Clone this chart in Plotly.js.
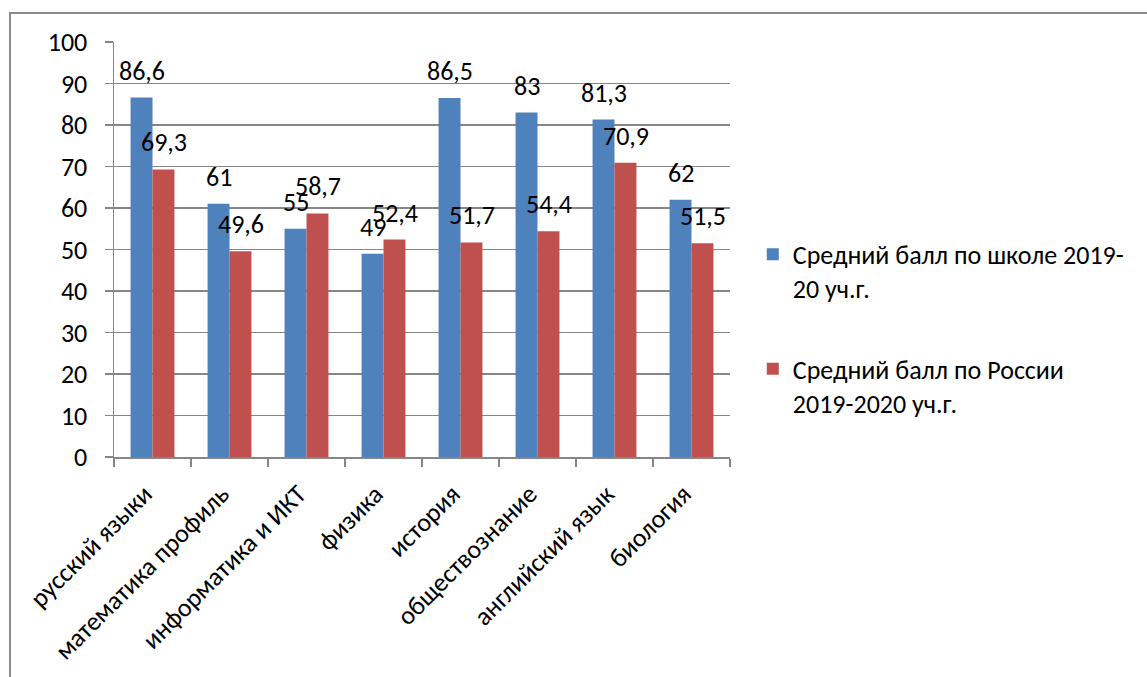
<!DOCTYPE html>
<html>
<head>
<meta charset="utf-8">
<script src="https://cdn.plot.ly/plotly-3.0.1.min.js"></script>
<style>
html,body{margin:0;padding:0;background:#fff;}
#frame{position:absolute;left:9px;top:12px;width:1200px;height:700px;border-top:2px solid #8a8a8a;border-left:2px solid #8a8a8a;pointer-events:none;z-index:5;}
#chart{position:absolute;left:0;top:0;width:1147px;height:677px;}
</style>
</head>
<body>
<div id="chart"></div>
<div id="frame"></div>
<script>
const categories = ["русский языки","математика профиль","информатика и ИКТ","физика","история","обществознание","английский язык","биология"];
const schoolName = "Средний балл по школе 2019-<br>20 уч.г.";
const russiaName = "Средний балл по России<br>2019-2020 уч.г.";
const schoolValues = [86.6, 61, 55, 49, 86.5, 83, 81.3, 62];
const russiaValues = [69.3, 49.6, 58.7, 52.4, 51.7, 54.4, 70.9, 51.5];
const yTicks = [0,10,20,30,40,50,60,70,80,90,100];

const FONT = "Carlito, Calibri, 'Noto Sans', sans-serif";
const FS = 26;
const fmt = v => String(v).replace('.', ',');

const traces = [
  {type:'bar', x:categories, y:schoolValues, name:schoolName, legendgroup:'a',
   marker:{color:'#4F81BD'}, hoverinfo:'y'},
  {type:'bar', x:categories, y:russiaValues, name:russiaName, legendgroup:'b',
   marker:{color:'#C0504D'}, hoverinfo:'y'}
];

const annotations = [];
categories.forEach((c,i)=>{
  annotations.push({x:c, y:schoolValues[i], xref:'x', yref:'y', text:fmt(schoolValues[i]), showarrow:false,
    xshift:-11, yshift:27, yanchor:'middle', xanchor:'center', font:{family:FONT,size:FS,color:'#000'}});
  annotations.push({x:c, y:russiaValues[i], xref:'x', yref:'y', text:fmt(russiaValues[i]), showarrow:false,
    xshift:11, yshift:27, yanchor:'middle', xanchor:'center', font:{family:FONT,size:FS,color:'#000'}});
});

const layout = {
  width:1147, height:677,
  margin:{l:114, r:417, t:42, b:220},
  paper_bgcolor:'#fff', plot_bgcolor:'#fff',
  font:{family:FONT, size:FS, color:'#000'},
  barmode:'group', bargap:0.43, bargroupgap:0,
  showlegend:true,
  legend:{x:1.037, xanchor:'left', y:0.545, yanchor:'top', valign:'top',
    font:{family:FONT,size:FS,color:'#000'}, tracegroupgap:44, traceorder:'grouped', bgcolor:'rgba(0,0,0,0)'},
  xaxis:{type:'category', tickangle:-45, showgrid:false, showline:true, linecolor:'#868686', linewidth:1.5,
    ticks:'outside', tickson:'boundaries', ticklen:8, tickcolor:'#868686', tickwidth:1.5,
    tickfont:{family:FONT,size:FS,color:'#000'}, ticklabelstandoff:10, ticklabelshift:-8, fixedrange:true},
  yaxis:{range:[0,100], tickvals:yTicks, ticktext:yTicks.map(String), showgrid:true, gridcolor:'#868686', gridwidth:1.5,
    showline:true, linecolor:'#868686', linewidth:1.5, ticks:'outside', ticklen:8, tickcolor:'#868686', tickwidth:1.5,
    zeroline:false, tickfont:{family:FONT,size:FS,color:'#000'}, ticklabelstandoff:12, fixedrange:true},
  annotations:annotations
};

Plotly.newPlot('chart', traces, layout, {displayModeBar:false, staticPlot:true});
</script>
</body>
</html>
